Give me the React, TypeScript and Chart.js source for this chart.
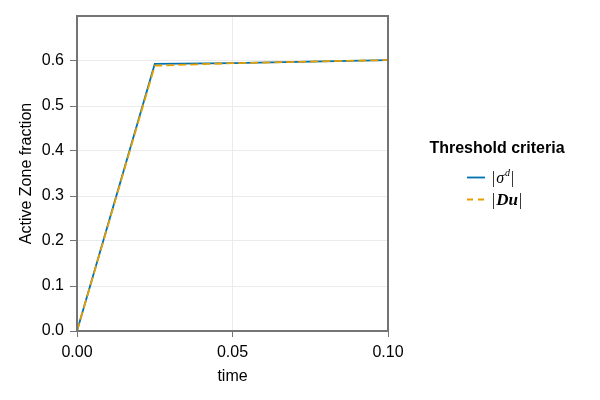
import React, { useEffect, useRef } from "react";
import { Chart, registerables } from "chart.js";

Chart.register(...registerables);

const times = [0, 0.025, 0.05, 0.075, 0.1];
const sigmaSeries = [0, 0.5935, 0.5955, 0.5988, 0.602];
const duSeries = [0, 0.5895, 0.5952, 0.5988, 0.602];
const yTicks = [0, 0.1, 0.2, 0.3, 0.4, 0.5, 0.6];
const xTicks = [0, 0.05, 0.1];
const legendTitle = "Threshold criteria";
const xTitle = "time";
const yTitle = "Active Zone fraction";

const BLUE = "#0072B2";
const ORANGE = "#E69F00";
const SPINE = "#747474";
const GRID = "#ebebeb";
const SANS = "'Liberation Sans', Arial, sans-serif";

const framePlugin = {
  id: "frameAndLegend",
  afterDraw(chart: any) {
    const { ctx, chartArea: a } = chart;
    ctx.save();
    ctx.strokeStyle = SPINE;
    ctx.lineWidth = 2;
    ctx.strokeRect(Math.round(a.left), Math.round(a.top), Math.round(a.right - a.left), Math.round(a.bottom - a.top));

    // legend
    ctx.fillStyle = "#000";
    ctx.font = `bold 16px ${SANS}`;
    ctx.textAlign = "center";
    ctx.textBaseline = "middle";
    ctx.fillText(legendTitle, 497, 149);

    // entry 1
    ctx.lineWidth = 1.8;
    ctx.strokeStyle = BLUE;
    ctx.setLineDash([]);
    ctx.beginPath();
    ctx.moveTo(467, 177.5);
    ctx.lineTo(485, 177.5);
    ctx.stroke();
    ctx.textAlign = "left";
    ctx.textBaseline = "alphabetic";
    ctx.font = `16px 'Liberation Serif', serif`;
    let x = 492;
    ctx.fillText("|", x, 183);
    x += ctx.measureText("|").width + 1;
    ctx.font = `italic 16px 'Liberation Serif', serif`;
    ctx.fillText("σ", x, 183);
    x += ctx.measureText("σ").width + 1;
    ctx.font = `italic 10px 'Liberation Serif', serif`;
    ctx.fillText("d", x, 176);
    x += ctx.measureText("d").width + 1;
    ctx.font = `16px 'Liberation Serif', serif`;
    ctx.fillText("|", x, 183);

    // entry 2
    ctx.strokeStyle = ORANGE;
    ctx.setLineDash([6, 5]);
    ctx.beginPath();
    ctx.moveTo(467, 199.5);
    ctx.lineTo(485, 199.5);
    ctx.stroke();
    ctx.setLineDash([]);
    x = 492;
    ctx.font = `16px 'Liberation Serif', serif`;
    ctx.fillText("|", x, 205);
    x += ctx.measureText("|").width + 1;
    ctx.font = `italic bold 17px 'Liberation Serif', serif`;
    ctx.fillText("Du", x, 205);
    x += ctx.measureText("Du").width + 1;
    ctx.font = `16px 'Liberation Serif', serif`;
    ctx.fillText("|", x, 205);
    ctx.restore();
  },
};

export default function App() {
  const ref = useRef<HTMLCanvasElement>(null);
  useEffect(() => {
    if (!ref.current) return;
    const chart = new Chart(ref.current, {
      type: "line",
      data: {
        datasets: [
          {
            label: "|σd|",
            data: times.map((t, i) => ({ x: t, y: sigmaSeries[i] })),
            borderColor: BLUE,
            borderWidth: 1.8,
            pointRadius: 0,
            fill: false,
            tension: 0,
            order: 1,
          },
          {
            label: "|Du|",
            data: times.map((t, i) => ({ x: t, y: duSeries[i] })),
            borderColor: ORANGE,
            borderWidth: 1.8,
            borderDash: [8, 4],
            pointRadius: 0,
            fill: false,
            tension: 0,
            order: 0,
          },
        ],
      },
      options: {
        responsive: false,
        animation: false,
        layout: { padding: { left: 0, top: 16, right: 212, bottom: 0 } },
        plugins: { legend: { display: false }, tooltip: { enabled: false } },
        scales: {
          x: {
            type: "linear",
            min: 0,
            max: 0.1,
            afterBuildTicks: (s: any) => {
              s.ticks = xTicks.map((v) => ({ value: v }));
            },
            afterFit: (s: any) => {
              s.height = 69;
            },
            ticks: {
              color: "#000",
              font: { family: SANS, size: 16 },
              padding: 6,
              maxRotation: 0,
              callback: (v: any) => Number(v).toFixed(2),
            },
            grid: { color: GRID, tickColor: SPINE, tickLength: 6, drawTicks: true },
            border: { display: false },
            title: { display: true, text: xTitle, color: "#000", font: { family: SANS, size: 16 }, padding: { top: 0, bottom: 14 } },
          },
          y: {
            type: "linear",
            min: 0,
            max: 0.7,
            afterBuildTicks: (s: any) => {
              s.ticks = yTicks.map((v) => ({ value: v }));
            },
            afterFit: (s: any) => {
              s.width = 77;
            },
            ticks: {
              color: "#000",
              font: { family: SANS, size: 16 },
              padding: 6,
              callback: (v: any) => Number(v).toFixed(1),
            },
            grid: { color: GRID, tickColor: SPINE, tickLength: 7, drawTicks: true },
            border: { display: false },
            title: { display: true, text: yTitle, color: "#000", font: { family: SANS, size: 16 }, padding: { top: 17, bottom: 0 } },
          },
        },
      },
      plugins: [framePlugin],
    } as any);
    return () => chart.destroy();
  }, []);
  return (
    <div style={{ position: "fixed", left: 0, top: 0, width: 600, height: 400, background: "#fff" }}>
      <canvas ref={ref} width={600} height={400} style={{ display: "block" }} />
    </div>
  );
}
